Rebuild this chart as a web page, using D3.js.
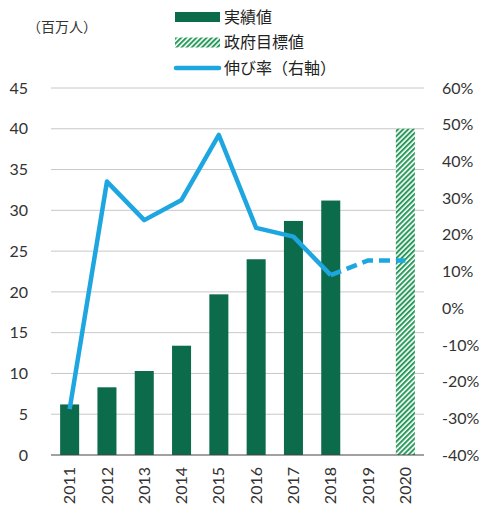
<!DOCTYPE html>
<html>
<head>
<meta charset="utf-8">
<script src="https://cdn.jsdelivr.net/npm/d3@7"></script>
<style>
  body { margin: 0; background: #fff; }
  svg { font-family: "Noto Sans CJK JP", "Noto Sans", sans-serif; }
</style>
</head>
<body>
<svg id="chart"></svg>
<script>
// data
const years = ["2011", "2012", "2013", "2014", "2015", "2016", "2017", "2018", "2019", "2020"]
const actual = [6.2, 8.3, 10.3, 13.4, 19.7, 24.0, 28.7, 31.2, null, null]
const target = [null, null, null, null, null, null, null, null, null, 40]
const growth = [-27.5, 34.5, 24.0, 29.5, 47.2, 21.9, 19.5, 9.0, null, null]
const growthPlan = [null, null, null, null, null, null, null, 9.0, 13.0, 13.0]
const leftTicks = [0, 5, 10, 15, 20, 25, 30, 35, 40, 45]
const rightTicks = [-40, -30, -20, -10, 0, 10, 20, 30, 40, 50, 60]
const legendLabels = ["実績値", "政府目標値", "伸び率（右軸）"]

const width = 500
const height = 521
const margin = { top: 88, bottom: 66, left: 51, right: 76 }
const bodyWidth = width - margin.left - margin.right
const bodyHeight = height - margin.top - margin.bottom

const green = "#0b6b4b"
const hatchGreen = "#2a9a5c"
const blue = "#1ea6e0"
const tickFont = "Lato, 'Noto Sans', sans-serif"

const svg = d3.select("#chart")
    .attr("width", width)
    .attr("height", height)

// hatch pattern
const defs = svg.append("defs")
const pattern = defs.append("pattern")
    .attr("id", "hatch")
    .attr("patternUnits", "userSpaceOnUse")
    .attr("width", 3.6)
    .attr("height", 3.6)
    .attr("patternTransform", "rotate(45)")
pattern.append("rect")
    .attr("width", 3.6).attr("height", 3.6).attr("fill", "#fff")
pattern.append("rect")
    .attr("width", 2).attr("height", 3.6).attr("fill", hatchGreen)

let xScale = d3.scaleBand()
    .domain(years)
    .range([0, bodyWidth])
    .paddingInner(0.49)
    .paddingOuter(0.245)

let yScale = d3.scaleLinear()
    .domain([0, 45])
    .range([bodyHeight, 0])

let y2Scale = d3.scaleLinear()
    .domain([-40, 60])
    .range([bodyHeight, 0])

let body = svg.append("g")
    .attr("transform", `translate(${margin.left}, ${margin.top})`)

// gridlines
body.append("g")
    .selectAll("line")
    .data(leftTicks.filter(d => d > 0))
    .enter()
    .append("line")
    .attr("x1", 0)
    .attr("x2", bodyWidth)
    .attr("y1", d => yScale(d))
    .attr("y2", d => yScale(d))
    .attr("stroke", "#c8c8c8")
    .attr("stroke-width", 1)

// left axis
let yAxis = d3.axisLeft(yScale)
    .tickValues(leftTicks)
    .tickSize(0)
    .tickPadding(23)
body.append("g")
    .call(yAxis)
    .call(g => g.select(".domain").remove())
    .selectAll("text")
    .attr("font-size", 16)
    .attr("fill", "#333")
    .attr("font-family", tickFont)

// right axis
let y2Axis = d3.axisRight(y2Scale)
    .tickValues(rightTicks)
    .tickFormat(d => d + "%")
    .tickSize(0)
    .tickPadding(18)
body.append("g")
    .attr("transform", `translate(${bodyWidth}, 0)`)
    .call(y2Axis)
    .call(g => g.select(".domain").remove())
    .selectAll("text")
    .attr("font-size", 16)
    .attr("fill", "#333")
    .attr("font-family", tickFont)

// bars
body.selectAll(".bar")
    .data(years.map((y, i) => ({ year: y, value: actual[i] })).filter(d => d.value != null))
    .enter()
    .append("rect")
    .attr("class", "bar")
    .attr("x", d => xScale(d.year))
    .attr("width", xScale.bandwidth())
    .attr("y", d => yScale(d.value))
    .attr("height", d => bodyHeight - yScale(d.value))
    .attr("fill", green)

body.selectAll(".target")
    .data(years.map((y, i) => ({ year: y, value: target[i] })).filter(d => d.value != null))
    .enter()
    .append("rect")
    .attr("class", "target")
    .attr("x", d => xScale(d.year))
    .attr("width", xScale.bandwidth())
    .attr("y", d => yScale(d.value))
    .attr("height", d => bodyHeight - yScale(d.value))
    .attr("fill", "url(#hatch)")

// baseline
body.append("line")
    .attr("x1", 0)
    .attr("x2", bodyWidth)
    .attr("y1", yScale(0))
    .attr("y2", yScale(0))
    .attr("stroke", "#444")
    .attr("stroke-width", 1.2)

// x axis labels
let xAxis = d3.axisBottom(xScale).tickSize(0).tickPadding(0)
body.append("g")
    .attr("transform", `translate(0, ${bodyHeight})`)
    .call(xAxis)
    .call(g => g.select(".domain").remove())
    .selectAll("text")
    .attr("font-size", 16)
    .attr("fill", "#333")
    .attr("font-family", tickFont)
    .attr("text-anchor", "end")
    .attr("dy", "0.35em")
    .attr("transform", "translate(0, 12) rotate(-90)")

// growth line
let line = d3.line()
    .defined(d => d.value != null)
    .x(d => xScale(d.year) + xScale.bandwidth() / 2)
    .y(d => y2Scale(d.value))

body.append("path")
    .datum(years.map((y, i) => ({ year: y, value: growth[i] })))
    .attr("d", line)
    .attr("fill", "none")
    .attr("stroke", blue)
    .attr("stroke-width", 4.5)
    .attr("stroke-linejoin", "round")

body.append("path")
    .datum(years.map((y, i) => ({ year: y, value: growthPlan[i] })))
    .attr("d", line)
    .attr("fill", "none")
    .attr("stroke", blue)
    .attr("stroke-width", 4.5)
    .attr("stroke-dasharray", "11,6")

// unit label
svg.append("text")
    .attr("x", 27)
    .attr("y", 32)
    .attr("font-size", 14)
    .attr("fill", "#333")
    .text("（百万人）")

// legend
let legend = svg.append("g")
    .attr("transform", "translate(175, 17)")

let legendItems = legend.selectAll("g")
    .data(legendLabels)
    .enter()
    .append("g")
    .attr("transform", (d, i) => `translate(0, ${i * 25.5})`)

legendItems.each(function(d, i) {
    let g = d3.select(this)
    if (i === 2) {
        g.append("line")
            .attr("x1", 1).attr("x2", 44)
            .attr("y1", 0).attr("y2", 0)
            .attr("stroke", blue)
            .attr("stroke-width", 4.5)
            .attr("stroke-linecap", "round")
    } else {
        g.append("rect")
            .attr("x", 0).attr("y", -5)
            .attr("width", 45).attr("height", 10)
            .attr("fill", i === 0 ? green : "url(#hatch)")
    }
    g.append("text")
        .attr("x", 49)
        .attr("y", 0)
        .attr("dy", "0.35em")
        .attr("font-size", 16)
        .attr("fill", "#222")
        .text(d)
})
</script>
</body>
</html>
